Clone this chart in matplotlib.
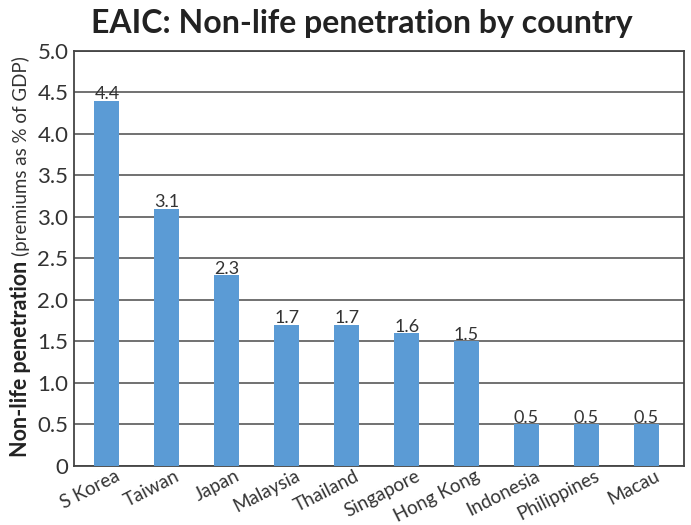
import matplotlib
matplotlib.use("Agg")
import matplotlib.pyplot as plt
import matplotlib.transforms as mtransforms
import numpy as np

# data
countries = ["S Korea", "Taiwan", "Japan", "Malaysia", "Thailand",
             "Singapore", "Hong Kong", "Indonesia", "Philippines", "Macau"]
penetration = [4.4, 3.1, 2.3, 1.7, 1.7, 1.6, 1.5, 0.5, 0.5, 0.5]
yticks = [0, 0.5, 1.0, 1.5, 2.0, 2.5, 3.0, 3.5, 4.0, 4.5, 5.0]
ytick_labels = ["0", "0.5", "1.0", "1.5", "2.0", "2.5", "3.0", "3.5", "4.0", "4.5", "5.0"]

plt.rcParams["font.family"] = ["Lato", "DejaVu Sans"]

fig = plt.figure(figsize=(6.91, 5.25), dpi=100)
ax = fig.add_axes([0.107, 0.113, 0.883, 0.79])

x = np.arange(len(countries))
ax.set_axisbelow(True)
ax.grid(axis="y", color="#666666", linewidth=1.3)
ax.bar(x, penetration, width=0.42, color="#5b9bd5", zorder=3)

for xi, v in zip(x, penetration):
    ax.text(xi, v - 0.02, f"{v:.1f}", ha="center", va="bottom", fontsize=13,
            color="#333333", zorder=4)

ax.set_ylim(0, 5.0)
ax.set_xlim(-0.55, 9.63)
ax.set_yticks(yticks)
ax.set_yticklabels(ytick_labels, fontsize=16, color="#333333")
ax.set_xticks(x)
ax.set_xticklabels(countries, rotation=27, ha="right", rotation_mode="anchor",
                   fontsize=13.5, color="#333333")
ax.tick_params(axis="y", length=0, pad=4)
ax.tick_params(axis="x", length=0, pad=1)
shift = mtransforms.ScaledTranslation(8 / 100, 0, fig.dpi_scale_trans)
for lab in ax.get_xticklabels():
    lab.set_transform(lab.get_transform() + shift)
for s in ax.spines.values():
    s.set_color("#444444")
    s.set_linewidth(1.3)

fig.text(0.524, 0.956, "EAIC: Non-life penetration by country", ha="center",
         va="center", fontsize=23, fontweight="bold", color="#222222")

# y label: bold part + normal part
bold = fig.text(0.03, 0.13, "Non-life penetration", rotation=90,
                ha="center", va="bottom", fontsize=15.5, fontweight="bold",
                color="#222222")
fig.canvas.draw()
bb = bold.get_window_extent().transformed(fig.transFigure.inverted())
fig.text(0.03, bb.y1 + 0.008, "(premiums as % of GDP)", rotation=90,
         ha="center", va="bottom", fontsize=13.5, color="#333333")

fig.savefig("out.png", dpi=100)
